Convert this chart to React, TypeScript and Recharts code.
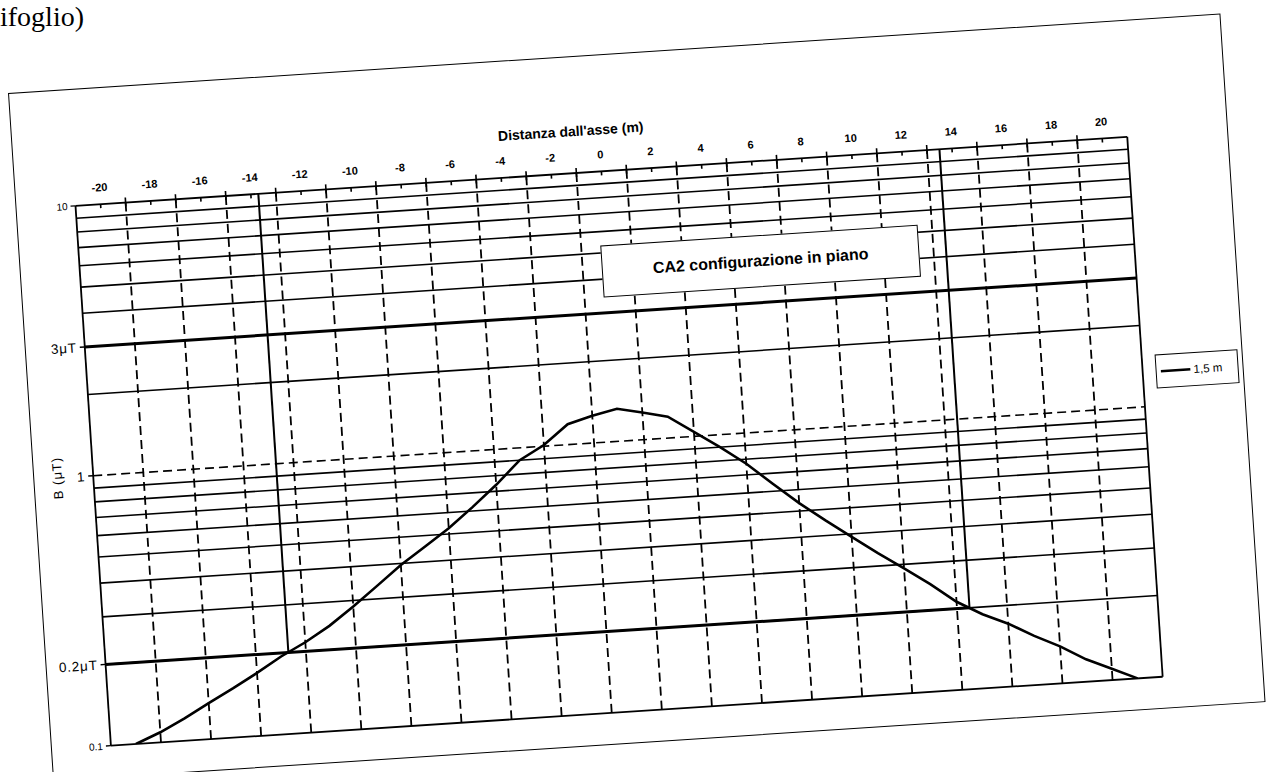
import React from 'react';
import { LineChart, Line, XAxis, YAxis, ReferenceLine, Legend } from 'recharts';

// ---- data ----
const distances = [-20, -19, -18, -17, -16, -15, -14, -13, -12, -11, -10, -9, -8, -7, -6, -5, -4, -3, -2, -1, 0, 1, 2, 3, 4, 5, 6, 7, 8, 9, 10, 11, 12, 13, 14, 15, 16, 17, 18, 19, 20];
const fieldB = [0.1, 0.109, 0.121, 0.136, 0.152, 0.171, 0.194, 0.216, 0.245, 0.285, 0.335, 0.395, 0.455, 0.525, 0.62, 0.74, 0.9, 1.01, 1.19, 1.26, 1.32, 1.26, 1.2, 1.04, 0.9, 0.77, 0.64, 0.535, 0.455, 0.39, 0.335, 0.29, 0.25, 0.212, 0.188, 0.171, 0.152, 0.137, 0.121, 0.11, 0.1];
const seriesName = '1,5 m';

const xDomain = [-21, 21];
const xTickValues = [-20, -19, -18, -17, -16, -15, -14, -13, -12, -11, -10, -9, -8, -7, -6, -5, -4, -3, -2, -1, 0, 1, 2, 3, 4, 5, 6, 7, 8, 9, 10, 11, 12, 13, 14, 15, 16, 17, 18, 19, 20];
const xGridValues = [-19, -17, -15, -13, -11, -9, -7, -5, -3, -1, 1, 3, 5, 7, 9, 11, 13, 15, 17, 19];

const yDomain = [0.1, 10];
const yTickValues = [0.1, 0.2, 1, 3, 10];
const yTickLabels = ['0.1', '0.2μT', '1', '3μT', '10'];
const yGridValues = [0.2, 0.3, 0.4, 0.5, 0.6, 0.7, 0.8, 0.9, 2, 3, 4, 5, 6, 7, 8, 9];
const thickLevels = [3];
const referenceLevel = 1;
const limitLevel = 0.2;
const limitDistances = [-13.7, 13.5];

const chartTitle = 'CA2 configurazione in piano';
const xAxisTitle = "Distanza dall'asse (m)";
const yAxisTitle = 'B (μT)';
const headerText = 'ifoglio)';

const tableData = distances.map((x, i) => ({ x, b: fieldB[i] }));

// ---- layout ----
const W = 1215;
const H = 690;
const MARGIN = { top: 60, right: 101, bottom: 32, left: 10 };
const X_AXIS_H = 57;
const Y_AXIS_W = 50;
const PLOT_TOP = MARGIN.top + X_AXIS_H;
const PLOT_LEFT = MARGIN.left + Y_AXIS_W;
const FONT = '"Liberation Sans", Arial, Helvetica, sans-serif';

const XTick = (props: any) => {
  const { x, payload } = props;
  const v = payload.value;
  if (v % 2 === 0) {
    return (
      <g>
        <line x1={x} x2={x} y1={PLOT_TOP} y2={PLOT_TOP + 4} stroke="#000" strokeWidth={1.6} />
        <text x={x} y={PLOT_TOP - 13} textAnchor="middle" fontSize={11} fontWeight="bold" fontFamily={FONT} fill="#000">
          {String(v)}
        </text>
      </g>
    );
  }
  return <line x1={x} x2={x} y1={PLOT_TOP - 5} y2={PLOT_TOP + 4} stroke="#000" strokeWidth={1.6} />;
};

const YTick = (props: any) => {
  const { y, payload } = props;
  const idx = yTickValues.indexOf(payload.value);
  const label = idx >= 0 ? yTickLabels[idx] : '';
  const isEnd = payload.value === yDomain[0] || payload.value === yDomain[1];
  return (
    <g>
      <line x1={PLOT_LEFT - 5} x2={PLOT_LEFT} y1={y} y2={y} stroke="#000" strokeWidth={1.4} />
      <text
        x={PLOT_LEFT - 8}
        y={y}
        dy="0.36em"
        textAnchor="end"
        fontSize={isEnd ? 10 : 13.5}
        letterSpacing={isEnd ? 0 : 0.8}
        fontFamily={FONT}
        fill="#000"
      >
        {label}
      </text>
    </g>
  );
};

const XTitle = (props: any) => {
  const vb = props.viewBox || { x: PLOT_LEFT, y: MARGIN.top, width: W - PLOT_LEFT - MARGIN.right };
  return (
    <text
      x={vb.x + vb.width / 2 - 28}
      y={vb.y + 20}
      textAnchor="middle"
      fontSize={14}
      fontWeight="bold"
      fontFamily={FONT}
      fill="#000"
    >
      {xAxisTitle}
    </text>
  );
};

const LegendContent = (props: any) => {
  const items = props.payload || [];
  return (
    <div style={{ display: 'flex', flexDirection: 'column', justifyContent: 'center', height: '100%' }}>
      {items.map((it: any, i: number) => (
        <div key={i} style={{ display: 'flex', alignItems: 'center', paddingLeft: 4 }}>
          <svg width={30} height={10}>
            <line x1={0} x2={30} y1={5} y2={5} stroke="#000" strokeWidth={2.5} />
          </svg>
          <span style={{ fontFamily: FONT, fontSize: 11.5, color: '#000', marginLeft: 3 }}>{it.value}</span>
        </div>
      ))}
    </div>
  );
};

export default function App() {
  return (
    <div style={{ position: 'relative', width: 1270, height: 772, overflow: 'hidden', background: '#fff' }}>
      <style>{`html,body{margin:0;padding:0;overflow:hidden;background:#fff}`}</style>
      <div
        style={{
          position: 'absolute',
          left: 0,
          top: 3,
          fontFamily: '"Liberation Serif", "Times New Roman", serif',
          fontSize: 28,
          lineHeight: 1,
          color: '#000',
        }}
      >
        {headerText}
      </div>
      <div
        style={{
          position: 'absolute',
          left: 8,
          top: 93,
          width: W,
          height: H,
          transform: 'rotate(-3.75deg)',
          transformOrigin: '0 0',
          outline: '1.6px solid #000',
          outlineOffset: -1.6,
          background: '#fff',
        }}
      >
        <LineChart width={W} height={H} data={tableData} margin={MARGIN}>
          <XAxis
            dataKey="x"
            type="number"
            orientation="top"
            domain={xDomain}
            ticks={xTickValues}
            interval={0}
            height={X_AXIS_H}
            allowDataOverflow
            axisLine={false}
            tickLine={false}
            tick={<XTick />}
            label={<XTitle />}
          />
          <YAxis
            type="number"
            scale="log"
            domain={yDomain}
            ticks={yTickValues}
            interval={0}
            width={Y_AXIS_W}
            allowDataOverflow
            axisLine={false}
            tickLine={false}
            tick={<YTick />}
            label={{
              value: yAxisTitle,
              angle: -90,
              position: 'insideLeft',
              offset: 14,
              style: { textAnchor: 'middle', fontSize: 13, fill: '#000', fontFamily: FONT, letterSpacing: 1 },
            }}
          />
          {xGridValues.map((v) => (
            <ReferenceLine key={'vx' + v} x={v} stroke="#000" strokeWidth={1.8} strokeDasharray="9 5" />
          ))}
          {yGridValues.map((v) => (
            <ReferenceLine
              key={'hy' + v}
              y={v}
              stroke="#000"
              strokeWidth={thickLevels.includes(v) ? 3 : 1.6}
            />
          ))}
          <ReferenceLine y={referenceLevel} stroke="#000" strokeWidth={1.6} strokeDasharray="9 5" />
          <ReferenceLine
            segment={[
              { x: xDomain[0], y: limitLevel },
              { x: limitDistances[1], y: limitLevel },
            ]}
            stroke="#000"
            strokeWidth={3}
          />
          {limitDistances.map((d) => (
            <ReferenceLine
              key={'lim' + d}
              segment={[
                { x: d, y: limitLevel },
                { x: d, y: yDomain[1] },
              ]}
              stroke="#000"
              strokeWidth={2}
            />
          ))}
          <ReferenceLine y={yDomain[1]} stroke="#000" strokeWidth={1.8} />
          <ReferenceLine y={yDomain[0]} stroke="#000" strokeWidth={1.8} />
          <ReferenceLine x={xDomain[0]} stroke="#000" strokeWidth={1.8} />
          <ReferenceLine x={xDomain[1]} stroke="#000" strokeWidth={1.8} />
          <Line
            type="linear"
            dataKey="b"
            name={seriesName}
            stroke="#000"
            strokeWidth={2.6}
            dot={false}
            activeDot={false}
            isAnimationActive={false}
          />
          <Legend
            layout="vertical"
            align="center"
            verticalAlign="middle"
            content={<LegendContent />}
            wrapperStyle={{
              left: 1127,
              top: 336,
              width: 83,
              height: 34,
              border: '1.5px solid #000',
              background: '#fff',
              boxSizing: 'border-box',
            }}
          />
        </LineChart>
        <div
          style={{
            position: 'absolute',
            left: 581,
            top: 191,
            width: 318,
            height: 52,
            boxSizing: 'border-box',
            border: '1.6px solid #000',
            background: '#fff',
            display: 'flex',
            alignItems: 'center',
            justifyContent: 'center',
            fontFamily: FONT,
            fontWeight: 'bold',
            fontSize: 16,
            color: '#000',
          }}
        >
          {chartTitle}
        </div>
      </div>
    </div>
  );
}
